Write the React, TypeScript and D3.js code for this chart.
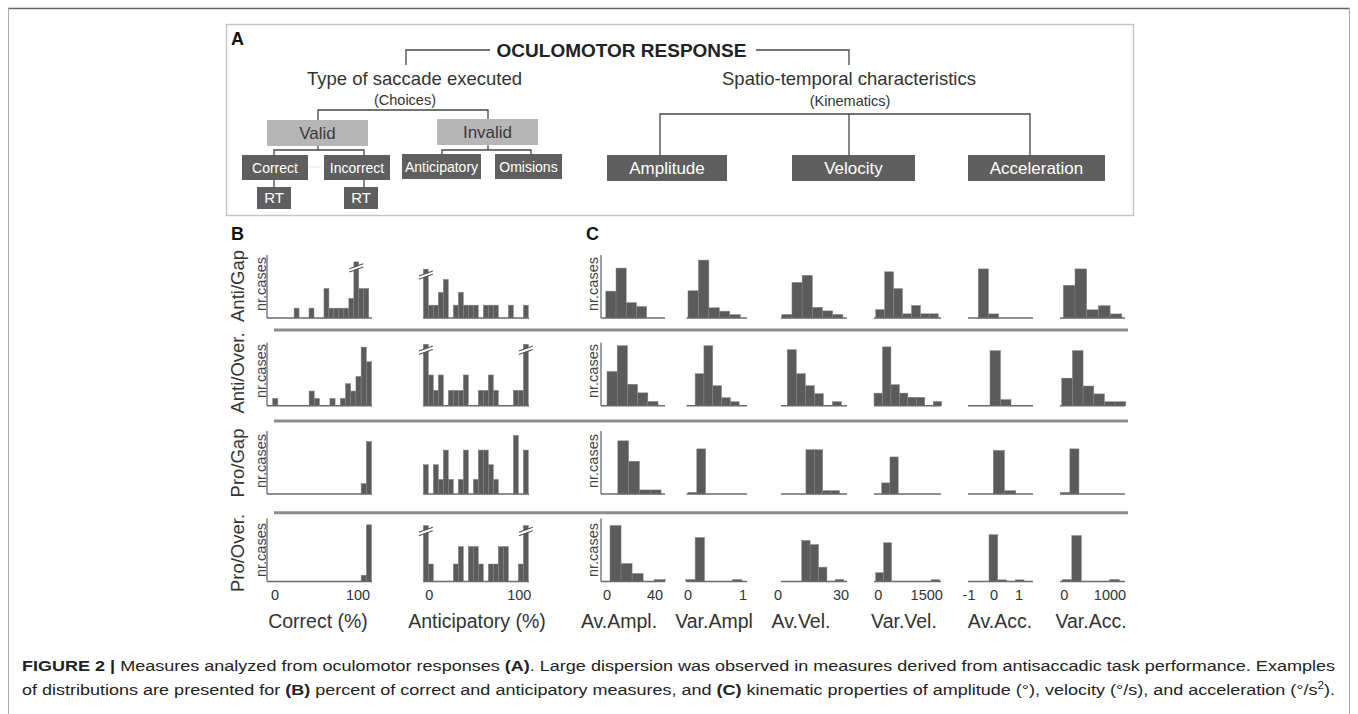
import React from 'react';
import * as d3 from 'd3';

// ---------------- DATA ----------------
const ROW_NAMES = ['Anti/Gap', 'Anti/Over.', 'Pro/Gap', 'Pro/Over.'];
const Y_LABEL = 'nr.cases';
const COLUMN_TITLES = ['Correct (%)', 'Anticipatory (%)', 'Av.Ampl.', 'Var.Ampl', 'Av.Vel.', 'Var.Vel.', 'Av.Acc.', 'Var.Acc.'];
const COLUMN_DOMAINS: [number, number][] = [
  [-9.64, 116.9], [-6.7, 110.8], [-5, 48.3], [-0.027, 1.073],
  [1.43, 32.86], [-133, 1943], [-1.04, 1.56], [-94, 1328],
];
const COLUMN_TICKS: number[][] = [[0, 100], [0, 100], [0, 40], [0, 1], [0, 30], [0, 1500], [-1, 0, 1], [0, 1000]];

// Correct (%) per row
const correctStart = [-1, -2.8, -2.8, -2.8];
const correctWidth = [6, 6.27, 6.27, 6.27];
const correctYMax = [6.4, 8.6, 6, 10];
const correctBroken = [[16], [], [], []];
const correctCounts = [
  [0, 0, 0, 0, 1, 0, 0, 1, 0, 0, 3, 1, 1, 1, 1, 2, 5.7, 3, 3],
  [1, 0, 0, 0, 0, 0, 0, 2, 1, 0, 0, 1, 0, 1, 3, 2, 4, 8, 6],
  [0, 0, 0, 0, 0, 0, 0, 0, 0, 0, 0, 0, 0, 0, 0, 0, 0, 1, 5],
  [0, 0, 0, 0, 0, 0, 0, 0, 0, 0, 0, 0, 0, 0, 0, 0, 0, 1, 9],
];
// Anticipatory (%)
const anticStart = [-6.7, -6.7, -6.7, -6.7];
const anticWidth = [5.56, 5.56, 5.56, 5.56];
const anticYMax = [4.9, 4.1, 4.3, 3.6];
const anticBroken = [[0], [0, 20], [], [0, 20]];
const anticCounts = [
  [3.8, 1, 1, 2, 3, 0, 1, 2, 1, 1, 1, 0, 1, 1, 1, 0, 0, 1, 0, 0, 1],
  [4, 2, 1, 2, 0, 1, 1, 1, 2, 0, 0, 1, 1, 2, 1, 0, 0, 0, 1, 1, 4],
  [2, 0, 2, 1, 3, 1, 0, 1, 3, 0, 1, 3, 3, 2, 1, 0, 0, 0, 4, 0, 3],
  [3.2, 1, 0, 0, 0, 0, 1, 2, 0, 2, 2, 1, 0, 1, 1, 2, 2, 0, 0, 1, 3.2],
];
// Av.Ampl.
const avAmplStart = [-1, 0, 9, 2.5];
const avAmplWidth = [8.5, 8.5, 9, 9.2];
const avAmplYMax = [16.4, 14.7, 15.4, 31.5];
const avAmplCounts = [[7, 13, 4, 3], [8, 14, 5, 3, 1], [13, 8, 1, 1], [28, 9, 4, 0, 1]];
// Var.Ampl
const varAmplStart = [0, 0.13, 0, -0.04];
const varAmplWidth = [0.19, 0.16, 0.16, 0.17];
const varAmplYMax = [18.5, 15.75, 37.7, 31.5];
const varAmplCounts = [[8, 17, 3, 2, 1], [8, 15, 5, 2, 1], [1, 27], [1, 22, 0, 0, 0, 1]];
// Av.Vel.
const avVelStart = [1.8, 4.4, 13.3, 11.3];
const avVelWidth = [4.85, 4.3, 4, 4];
const avVelYMax = [17.7, 15.75, 18.5, 30.7];
const avVelCounts = [[1, 10, 12, 3, 2, 1], [14, 8, 5, 3, 0, 1], [13, 13, 1, 1], [20, 18, 7, 0, 1]];
// Var.Vel.
const varVelStart = [-80, -132, 105, -80];
const varVelWidth = [277, 262, 256, 246];
const varVelYMax = [15, 15, 17, 35.8];
const varVelCounts = [[2, 11, 7, 1, 3, 1, 1], [3, 14, 5, 3, 2, 2, 0, 1], [3, 10], [5, 22, 0, 0, 0, 0, 0, 1]];
// Av.Acc.
const avAccStart = [-0.63, -0.16, -0.03, -0.2];
const avAccWidth = [0.41, 0.42, 0.45, 0.35];
const avAccYMax = [15.4, 10.3, 18.75, 37.7];
const avAccCounts = [[12, 1], [9, 1], [13, 1], [28, 1, 0, 1]];
// Var.Acc.
const varAccStart = [-22, -57, -79, -44];
const varAccWidth = [256, 234, 200, 208];
const varAccYMax = [15.4, 16, 37.7, 31.5];
const varAccCounts = [[8, 12, 2, 3, 1], [7, 14, 5, 3, 1, 1], [1, 27], [1, 23, 0, 0, 0, 1]];

// Panel A labels
const TITLE_A = 'OCULOMOTOR RESPONSE';
const BRANCH_LABELS = ['Type of saccade executed', 'Spatio-temporal characteristics'];
const BRANCH_SUBLABELS = ['(Choices)', '(Kinematics)'];
const CHOICE_GROUPS = ['Valid', 'Invalid'];
const CHOICE_ITEMS = ['Correct', 'Incorrect', 'Anticipatory', 'Omisions'];
const RT_LABEL = 'RT';
const KINEMATIC_ITEMS = ['Amplitude', 'Velocity', 'Acceleration'];

const CAPTION_1 = ['FIGURE 2 |', ' Measures analyzed from oculomotor responses ', '(A)', '. Large dispersion was observed in measures derived from antisaccadic task performance. Examples'];
const CAPTION_2 = ['of distributions are presented for ', '(B)', ' percent of correct and anticipatory measures, and ', '(C)', ' kinematic properties of amplitude (°), velocity (°/s), and acceleration (°/s', '2', ').'];

// ---------------- TABLE ----------------
const COLS = [
  { start: correctStart, width: correctWidth, yMax: correctYMax, counts: correctCounts, broken: correctBroken },
  { start: anticStart, width: anticWidth, yMax: anticYMax, counts: anticCounts, broken: anticBroken },
  { start: avAmplStart, width: avAmplWidth, yMax: avAmplYMax, counts: avAmplCounts },
  { start: varAmplStart, width: varAmplWidth, yMax: varAmplYMax, counts: varAmplCounts },
  { start: avVelStart, width: avVelWidth, yMax: avVelYMax, counts: avVelCounts },
  { start: varVelStart, width: varVelWidth, yMax: varVelYMax, counts: varVelCounts },
  { start: avAccStart, width: avAccWidth, yMax: avAccYMax, counts: avAccCounts },
  { start: varAccStart, width: varAccWidth, yMax: varAccYMax, counts: varAccCounts },
];

// ---------------- LAYOUT ----------------
const W = 1358, H = 714;
const FONT = '"Liberation Sans", Arial, Helvetica, sans-serif';
const COL_RANGES: [number, number][] = [
  [267, 372], [423.3, 529], [601, 665], [686.5, 747], [781, 847], [874, 941], [968, 1033], [1060, 1125],
];
const ROW_BASE = [318, 405.7, 494, 581.5];
const PLOT_H = 63;
const ROW_LABEL_Y = [286, 373, 463, 553];
const YLAB_Y = [284, 371, 461, 550];
const SEPARATORS_Y = [330, 421, 512.7];
const TITLE_X = [318, 477, 619, 714, 801, 904, 1000, 1091];
const BAR = '#5b5b5b';
const LINE = '#454545';

function Histogram({ ci, ri }: { ci: number; ri: number }) {
  const c = COLS[ci] as any;
  const x = d3.scaleLinear().domain(COLUMN_DOMAINS[ci]).range(COL_RANGES[ci]);
  const base = ROW_BASE[ri];
  const y = d3.scaleLinear().domain([0, c.yMax[ri]]).range([base, base - PLOT_H]);
  const counts: number[] = c.counts[ri];
  const broken: number[] = c.broken ? c.broken[ri] : [];
  const s = c.start[ri], w = c.width[ri];
  return (
    <g>
      {counts.map((v, i) => {
        if (v <= 0) return null;
        const x0 = x(s + i * w), x1 = x(s + (i + 1) * w);
        return <rect key={i} x={x0} y={y(v)} width={x1 - x0} height={base - y(v)} fill={BAR} stroke="#868686" strokeWidth={0.5} />;
      })}
      <line x1={COL_RANGES[ci][0]} x2={COL_RANGES[ci][1]} y1={base} y2={base} stroke="#6a6a6a" strokeWidth={1.6} />
      {(ci === 0 || ci === 2) && (
        <line x1={COL_RANGES[ci][0]} x2={COL_RANGES[ci][0]} y1={base} y2={base - PLOT_H} stroke="#6a6a6a" strokeWidth={1.3} />
      )}
      {broken.map((i) => {
        const cx = (x(s + i * w) + x(s + (i + 1) * w)) / 2;
        const ty = y(counts[i]) + 6;
        return (
          <g key={'b' + i}>
            <line x1={cx - 7} y1={ty + 2.5} x2={cx + 7} y2={ty - 2.5} stroke="#fff" strokeWidth={2.6} />
            <line x1={cx - 7} y1={ty + 0.8} x2={cx + 7} y2={ty - 4.2} stroke="#555" strokeWidth={1.1} />
            <line x1={cx - 7} y1={ty + 4.2} x2={cx + 7} y2={ty - 0.8} stroke="#555" strokeWidth={1.1} />
          </g>
        );
      })}
    </g>
  );
}

function Box({ x0, x1, y0, y1, label, light, fs }: any) {
  return (
    <g>
      <rect x={x0} y={y0} width={x1 - x0} height={y1 - y0} fill={light ? '#b6b6b6' : '#5f5f5f'} />
      <text x={(x0 + x1) / 2} y={(y0 + y1) / 2 + fs * 0.36} textAnchor="middle" fontSize={fs} fill={light ? '#3a3a3a' : '#ffffff'}>{label}</text>
    </g>
  );
}

export default function App() {
  return (
    <svg width={W} height={H} style={{ position: 'absolute', left: 0, top: 0, background: '#fff' }} fontFamily={FONT}>
      {/* outer frame */}
      <line x1={8} x2={1350} y1={8.5} y2={8.5} stroke="#666" strokeWidth={1.5} />
      <line x1={8.5} x2={8.5} y1={8} y2={H} stroke="#aaa" strokeWidth={1} />
      <line x1={1349.5} x2={1349.5} y1={8} y2={H} stroke="#aaa" strokeWidth={1} />

      {/* Panel A */}
      <rect x={226.5} y={24.5} width={907} height={191} fill="none" stroke="#c6c6c6" strokeWidth={1.5} />
      <text x={231} y={45} fontSize={18} fontWeight="bold" fill="#111">A</text>
      <text x={621.5} y={57} textAnchor="middle" fontSize={19} fontWeight="bold" fill="#222">{TITLE_A}</text>
      <g stroke={LINE} strokeWidth={1.3} fill="none">
        <path d="M406,65 V50 H490" />
        <path d="M756,50 H849 V65" />
        <path d="M318,120 V110 H488 V119" />
        <path d="M318,146 V150 M274,155 V150 H364 V155" />
        <path d="M488,145 V150 M442,154 V150 H531 V154" />
        <path d="M274,180 V187 M364,180 V187" />
        <path d="M660,155 V114 H1030 V155 M849,114 V155" />
      </g>
      <line x1={309} x2={323} y1={167} y2={167} stroke="#bbb" strokeWidth={0.8} strokeDasharray="1,1.5" />
      <text x={414.5} y={85} textAnchor="middle" fontSize={18.5} fill="#333">{BRANCH_LABELS[0]}</text>
      <text x={405} y={105} textAnchor="middle" fontSize={14.5} fill="#333">{BRANCH_SUBLABELS[0]}</text>
      <text x={849} y={85} textAnchor="middle" fontSize={18.5} fill="#333">{BRANCH_LABELS[1]}</text>
      <text x={850} y={106} textAnchor="middle" fontSize={14.5} fill="#333">{BRANCH_SUBLABELS[1]}</text>
      <Box x0={267} x1={368} y0={120} y1={146} label={CHOICE_GROUPS[0]} light fs={17} />
      <Box x0={437} x1={538} y0={119} y1={145} label={CHOICE_GROUPS[1]} light fs={17} />
      <Box x0={242} x1={308} y0={155} y1={180} label={CHOICE_ITEMS[0]} fs={14} />
      <Box x0={324} x1={390} y0={155} y1={180} label={CHOICE_ITEMS[1]} fs={14} />
      <Box x0={402} x1={481} y0={154} y1={179} label={CHOICE_ITEMS[2]} fs={14} />
      <Box x0={495} x1={562} y0={154} y1={179} label={CHOICE_ITEMS[3]} fs={14} />
      <Box x0={257} x1={291} y0={187} y1={209} label={RT_LABEL} fs={15} />
      <Box x0={344} x1={378} y0={187} y1={209} label={RT_LABEL} fs={15} />
      <Box x0={607} x1={727} y0={155} y1={181} label={KINEMATIC_ITEMS[0]} fs={17} />
      <Box x0={792} x1={915} y0={155} y1={181} label={KINEMATIC_ITEMS[1]} fs={17} />
      <Box x0={968} x1={1105} y0={155} y1={181} label={KINEMATIC_ITEMS[2]} fs={17} />

      {/* Panels B and C */}
      <text x={231} y={240} fontSize={18} fontWeight="bold" fill="#111">B</text>
      <text x={586} y={240} fontSize={18} fontWeight="bold" fill="#111">C</text>
      {SEPARATORS_Y.map((sy, i) => (
        <line key={i} x1={274} x2={1128} y1={sy} y2={sy} stroke="#8c8c8c" strokeWidth={3} />
      ))}
      {ROW_NAMES.map((n, ri) => (
        <g key={n}>
          <text transform={`translate(244,${ROW_LABEL_Y[ri]}) rotate(-90)`} textAnchor="middle" fontSize={18.5} fill="#333">{n}</text>
          <text transform={`translate(265.5,${YLAB_Y[ri]}) rotate(-90)`} textAnchor="middle" fontSize={14.5} fill="#444">{Y_LABEL}</text>
          <text transform={`translate(597.5,${YLAB_Y[ri]}) rotate(-90)`} textAnchor="middle" fontSize={14.5} fill="#444">{Y_LABEL}</text>
        </g>
      ))}
      {COLS.map((_, ci) => ROW_NAMES.map((__, ri) => <Histogram key={ci + '-' + ri} ci={ci} ri={ri} />))}
      {COLUMN_TICKS.map((ticks, ci) => {
        const x = d3.scaleLinear().domain(COLUMN_DOMAINS[ci]).range(COL_RANGES[ci]);
        return ticks.map((t) => (
          <text key={ci + '_' + t} x={x(t)} y={600} textAnchor="middle" fontSize={14.5} fill="#333">{String(t)}</text>
        ));
      })}
      {COLUMN_TITLES.map((t, ci) => (
        <text key={t} x={TITLE_X[ci]} y={628} textAnchor="middle" fontSize={19.5} fill="#333">{t}</text>
      ))}

      {/* Caption */}
      <text x={22} y={671} fontSize={15.5} fill="#222" textLength={1313} lengthAdjust="spacingAndGlyphs">
        <tspan fontWeight="bold">{CAPTION_1[0]}</tspan>
        <tspan>{CAPTION_1[1]}</tspan>
        <tspan fontWeight="bold">{CAPTION_1[2]}</tspan>
        <tspan>{CAPTION_1[3]}</tspan>
      </text>
      <text x={22} y={695} fontSize={15.5} fill="#222" textLength={1313} lengthAdjust="spacingAndGlyphs">
        <tspan>{CAPTION_2[0]}</tspan>
        <tspan fontWeight="bold">{CAPTION_2[1]}</tspan>
        <tspan>{CAPTION_2[2]}</tspan>
        <tspan fontWeight="bold">{CAPTION_2[3]}</tspan>
        <tspan>{CAPTION_2[4]}</tspan>
        <tspan fontSize={10} dy={-6}>{CAPTION_2[5]}</tspan>
        <tspan dy={6}>{CAPTION_2[6]}</tspan>
      </text>
    </svg>
  );
}
